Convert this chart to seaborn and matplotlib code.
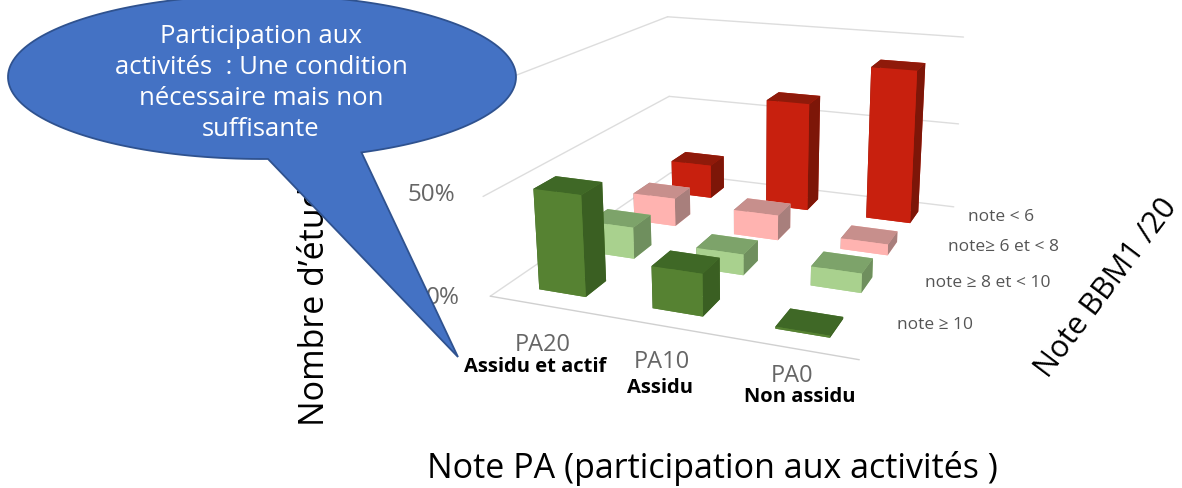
import numpy as np
import matplotlib
matplotlib.use('Agg')
import matplotlib.pyplot as plt
import seaborn as sns
from matplotlib.patches import Polygon

sns.set_theme(style='white')
plt.rcParams['font.family'] = ['Open Sans', 'DejaVu Sans']

pa_labels = ['PA20', 'PA10', 'PA0']
pa_desc = ['Assidu et actif', 'Assidu', 'Non assidu']
note_labels = ['note ≥ 10', 'note ≥ 8 et < 10', 'note≥ 6 et < 8', 'note < 6']
# rows = note bands, columns = PA groups
note_ge10 = [51, 21, 1]
note_8_10 = [17, 11, 10]
note_6_8 = [16, 14, 6]
note_lt6 = [20, 63, 87]
values = np.array([note_ge10, note_8_10, note_6_8, note_lt6])

# one colour per band: front, top, side
front = ['#568232', '#a9d18e', '#ffb3b0', '#c8200e']
top = ['#3f6826', '#7da36a', '#c78f8c', '#8f1a0a']
side = ['#3a5f22', '#6f8f5e', '#a87f7c', '#7d1608']

fig = plt.figure(figsize=(11.82, 4.89), dpi=100)
ax = fig.add_axes([0.3925, 0.083, 0.464, 1.16], projection='3d')
ax.set_proj_type('persp', focal_length=0.38)
ax.view_init(elev=17, azim=-69)
ax.set_box_aspect((3, 3.4, 1.66))
ax.set_axis_off()
ax.computed_zorder = False

# floor edges and gridlines
for lev in [0, 50, 100]:
    ax.plot([-0.5, 2.5], [3.5, 3.5], [lev, lev], color='#dddddd', lw=1, zorder=1)
    ax.plot([-0.5, -0.5], [-0.5, 3.5], [lev, lev], color='#dddddd', lw=1, zorder=1)
ax.plot([-0.5, 2.5], [-0.5, -0.5], [0, 0], color='#d0d0d0', lw=1, zorder=1)

# back to front so the near bars cover the far ones
order = 2
for j in range(3, -1, -1):
    for i in range(3):
        faces = [front[j], top[j], front[j], front[j], side[j], side[j]]
        ax.bar3d(i - 0.21, j - 0.2, 0, 0.42, 0.4, values[j][i], color=faces, shade=False, zsort='max', edgecolor='none', linewidth=0, zorder=order)
        order += 1

ax.set_xlim(-0.5, 2.5)
ax.set_ylim(-0.5, 3.5)
ax.set_zlim(0, 100)

# texts and callout in pixel coordinates of the figure
overlay = fig.add_axes([0, 0, 1, 1])
overlay.set_xlim(0, 1182)
overlay.set_ylim(489, 0)
overlay.axis('off')

for x, y, s in zip([543, 662, 792], [345, 362, 376], pa_labels):
    overlay.text(x, y, s, color='#666666', fontsize=17, ha='center', va='center')
for x, y, s in zip([535, 660, 800], [367, 388, 397], pa_desc):
    overlay.text(x, y, s, color='black', fontsize=14.5, fontweight='bold', ha='center', va='center')
for x, y, s in zip([897, 925, 948, 968], [325, 283, 247, 217], note_labels):
    overlay.text(x, y, s, color='#555555', fontsize=12.5, ha='left', va='center')
overlay.text(431, 195, '50%', color='#666666', fontsize=17.5, ha='center', va='center')
overlay.text(443, 298, '0%', color='#666666', fontsize=17.5, ha='center', va='center')

overlay.text(712, 469, 'Note PA (participation aux activités )', fontsize=24.5, color='black', ha='center', va='center')
overlay.text(315, 268, 'Nombre d’étudiants', fontsize=24.5, color='black', rotation=90, ha='center', va='center')
overlay.text(1106, 288, 'Note BBM1 /20', fontsize=22, color='black', rotation=53, ha='center', va='center')

t = np.linspace(0, 2 * np.pi, 200)
ex = 262 + 254 * np.cos(t)
ey = 78 + 82 * np.sin(t)
pts = np.column_stack([ex, ey])
start = np.argmax((ex < 362) & (t < np.pi))
end = np.argmax((ex < 272) & (t < np.pi))
poly = np.vstack([pts[:start + 1], [[458, 358]], pts[end:]])
overlay.add_patch(Polygon(poly, closed=True, facecolor='#4472c4', edgecolor='#2f528f', lw=1.3, zorder=5))
overlay.text(261, 83, 'Participation aux\nactivités  : Une condition\nnécessaire mais non\nsuffisante', color='white', fontsize=18.5, ha='center', va='center', linespacing=1.33, zorder=6)

fig.savefig('out.png', dpi=100)
